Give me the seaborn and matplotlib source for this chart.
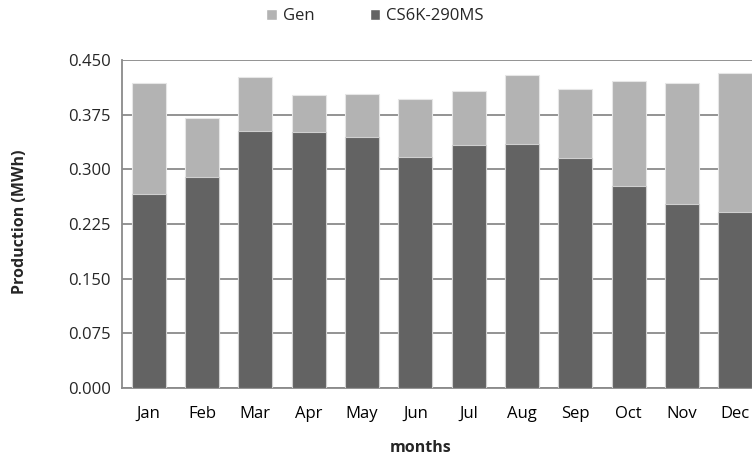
import numpy as np
import pandas as pd
import seaborn as sns
import matplotlib.pyplot as plt
from matplotlib.patches import Patch

# valores (MWh)
meses = ['Jan', 'Feb', 'Mar', 'Apr', 'May', 'Jun', 'Jul', 'Aug', 'Sep', 'Oct', 'Nov', 'Dec']
total = [0.419, 0.370, 0.427, 0.402, 0.403, 0.397, 0.408, 0.430, 0.410, 0.421, 0.419, 0.432]
cs6k = [0.266, 0.289, 0.353, 0.351, 0.344, 0.317, 0.333, 0.335, 0.316, 0.277, 0.253, 0.241]
gen = [round(t - c, 3) for t, c in zip(total, cs6k)]

df = pd.DataFrame({'mes': meses, 'total': total, 'CS6K-290MS': cs6k, 'Gen': gen})

sns.set_style('white')
plt.rcParams['font.family'] = ['Open Sans', 'DejaVu Sans']

claro = '#b3b3b3'
oscuro = '#636363'
gris = '#8a8a8a'

fig = plt.figure(figsize=(7.52, 4.61), dpi=100)
ax = fig.add_axes([122 / 752, 1 - 388 / 461, 640 / 752, 328 / 461])

# apilado: total en gris claro, CS6K encima en gris oscuro
sns.barplot(data=df, x='mes', y='total', color=claro, width=0.64, saturation=1,
            edgecolor='#e6e6e6', linewidth=0.8, ax=ax, zorder=3)
sns.barplot(data=df, x='mes', y='CS6K-290MS', color=oscuro, width=0.64, saturation=1,
            edgecolor='#d0d0d0', linewidth=0.8, ax=ax, zorder=4)

ax.set_ylim(0, 0.45)
ax.set_xlim(-0.5, 11.5)
ax.set_yticks(np.arange(0, 0.451, 0.075))
ax.set_yticklabels([f'{v:.3f}' for v in np.arange(0, 0.451, 0.075)])
ax.yaxis.grid(True, color=gris, linewidth=1.3, zorder=0)
ax.set_axisbelow(True)

ax.set_xticks(np.arange(12))
ax.set_xticklabels(meses)
ax.set_xticks(np.arange(-0.5, 12, 1), minor=True)
ax.tick_params(axis='x', which='major', length=0, pad=13, labelsize=12, colors='black')
ax.tick_params(axis='x', which='minor', length=5, width=1.3, color=gris, direction='out')
ax.tick_params(axis='y', length=5, width=1.3, color=gris, direction='out', labelsize=12, pad=3)

for s in ['top', 'right']:
    ax.spines[s].set_visible(False)
for s in ['left', 'bottom']:
    ax.spines[s].set_color(gris)
    ax.spines[s].set_linewidth(1.3)

ax.set_xlabel('')
ax.set_ylabel('')
fig.text(20 / 752, 1 - 222 / 461, 'Production (MWh)', rotation=90, ha='center', va='center',
         fontsize=11.5, fontweight='bold')
fig.text(421 / 752, 1 - 448 / 461, 'months', ha='center', va='center',
         fontsize=11.5, fontweight='bold')

handles = [Patch(facecolor=claro, label='Gen'), Patch(facecolor=oscuro, label='CS6K-290MS')]
fig.legend(handles=handles, loc='center', bbox_to_anchor=(375 / 752, 1 - 16 / 461), ncol=2,
           frameon=False, fontsize=12, handlelength=0.65, handleheight=0.65,
           handletextpad=0.35, columnspacing=3.3)

fig.savefig('out.png', dpi=100)
